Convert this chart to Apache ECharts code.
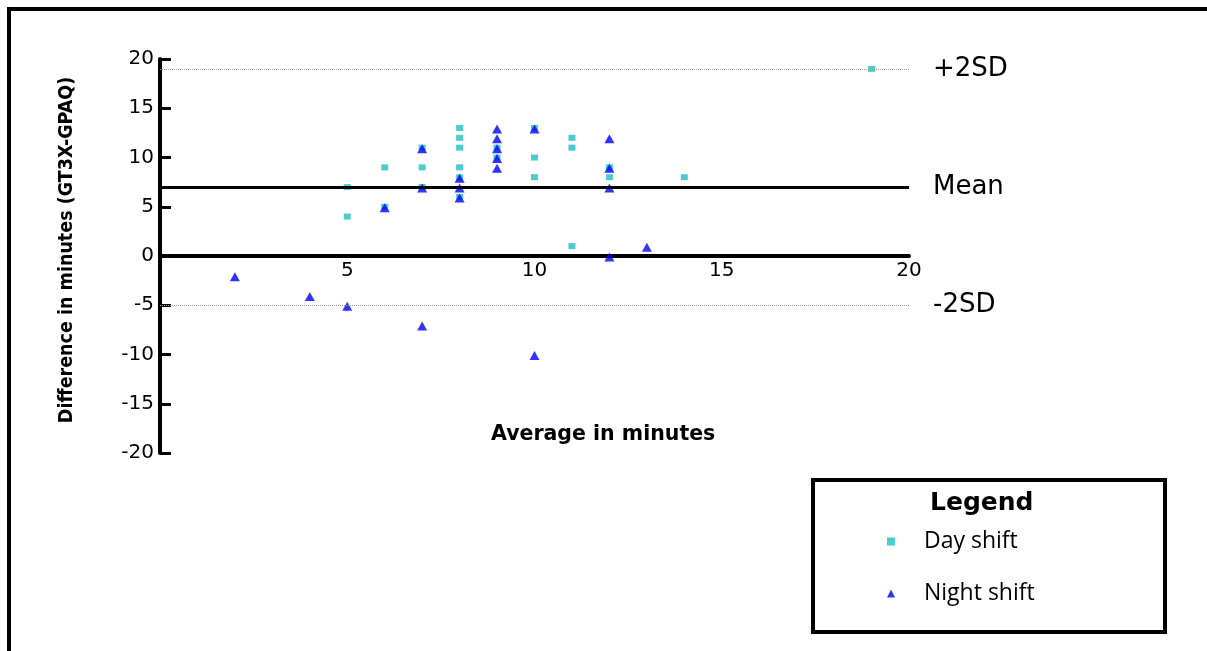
<!DOCTYPE html>
<html>
<head>
<meta charset="utf-8">
<title>Bland-Altman GT3X vs GPAQ</title>
<script src="https://cdn.jsdelivr.net/npm/echarts@6/dist/echarts.min.js"></script>
<style>
    html, body { margin: 0; padding: 0; background: #fff; }
    #main { width: 1207px; height: 651px; }
</style>
</head>
<body>
<div id="main"></div>
<script>
// day shift points (average, difference)
var dayX = [5, 5, 6, 6, 7, 7, 7, 8, 8, 8, 8, 8, 8, 9, 9, 10, 10, 10, 11, 11, 11, 12, 12, 14, 19];
var dayY = [7, 4, 9, 5, 11, 9, 7, 13, 12, 11, 9, 8, 6, 11, 10, 13, 10, 8, 12, 11, 1, 9, 8, 8, 19];

// night shift points
var nightX = [2, 4, 5, 6, 7, 7, 7, 8, 8, 8, 9, 9, 9, 9, 9, 10, 10, 12, 12, 12, 12, 13];
var nightY = [-2, -4, -5, 5, 11, 7, -7, 8, 7, 6, 13, 12, 11, 10, 9, 13, -10, 12, 9, 7, 0, 1];

// limits of agreement
var meanDiff = 7;
var upperSD = 19;
var lowerSD = -5;

var seriesNames = ['Day shift', 'Night shift'];

function toPairs(xs, ys) {
    var out = [];
    for (var i = 0; i < xs.length; i++) {
        out.push([xs[i], ys[i]]);
    }
    return out;
}

var chart = echarts.init(document.getElementById('main'));

var gridTop = 59;
var gridHeight = 394;

var sdLine = { color: '#9a9a9a', width: 1, type: 'dotted' };
var refLabel = {
    position: 'end',
    distance: 24,
    color: '#000',
    fontFamily: 'DejaVu Sans',
    fontSize: 26,
    padding: [9, 0, 0, 0]
};

var option = {
    backgroundColor: '#fff',
    animation: false,
    grid: { left: 160, top: gridTop, width: 749, height: gridHeight, containLabel: false },
    xAxis: {
        type: 'value',
        min: 0,
        max: 20,
        interval: 5,
        // x axis sits on y = 0, half way up the grid
        offset: -gridHeight / 2,
        splitLine: { show: false },
        axisTick: { show: false },
        axisLine: { onZero: false, lineStyle: { color: '#000', width: 4 } },
        axisLabel: {
            color: '#000',
            fontFamily: 'DejaVu Sans',
            fontSize: 20,
            margin: 5,
            formatter: function (v) { return v === 0 ? '' : String(v); }
        }
    },
    yAxis: {
        type: 'value',
        min: -20,
        max: 20,
        interval: 5,
        splitLine: { show: false },
        axisLine: { show: true, lineStyle: { color: '#000', width: 4 } },
        axisTick: { show: true, inside: true, length: 11, lineStyle: { color: '#000', width: 3 } },
        axisLabel: {
            color: '#000',
            fontFamily: 'DejaVu Sans',
            fontSize: 20,
            margin: 6
        }
    },
    legend: {
        orient: 'vertical',
        left: 882,
        top: 525,
        itemWidth: 8,
        itemHeight: 8,
        itemGap: 29,
        data: seriesNames,
        textStyle: {
            color: '#000',
            fontFamily: 'Open Sans',
            fontSize: 23,
            lineHeight: 23,
            padding: [0, 0, 0, 24]
        }
    },
    graphic: [
        // outer frame (only top and left edges fall inside the view)
        {
            type: 'rect',
            shape: { x: 9, y: 9, width: 1240, height: 700 },
            style: { fill: 'none', stroke: '#000', lineWidth: 4 },
            silent: true
        },
        // legend box
        {
            type: 'rect',
            shape: { x: 813, y: 480, width: 352, height: 152 },
            style: { fill: 'none', stroke: '#000', lineWidth: 4 },
            silent: true
        },
        {
            type: 'text',
            left: 930,
            top: 491,
            style: {
                text: 'Legend',
                fill: '#000',
                font: 'bold 25px "DejaVu Sans"'
            }
        },
        {
            type: 'text',
            left: 491,
            top: 424,
            style: {
                text: 'Average in minutes',
                fill: '#000',
                font: 'bold 20.5px "DejaVu Sans"'
            }
        },
        {
            type: 'text',
            x: 67,
            y: 250,
            rotation: Math.PI / 2,
            style: {
                text: 'Difference in minutes (GT3X-GPAQ)',
                fill: '#000',
                align: 'center',
                verticalAlign: 'middle',
                font: 'bold 19.5px "Liberation Sans Narrow", "DejaVu Sans Condensed", sans-serif'
            }
        }
    ],
    series: [
        {
            name: seriesNames[0],
            type: 'scatter',
            symbol: 'rect',
            symbolSize: [7, 6],
            itemStyle: { color: '#1fbfc4' },
            data: toPairs(dayX, dayY),
            z: 3,
            markLine: {
                silent: true,
                symbol: 'none',
                data: [
                    { yAxis: upperSD, lineStyle: sdLine, label: Object.assign({ formatter: '+2SD' }, refLabel) },
                    { yAxis: meanDiff, lineStyle: { color: '#000', width: 3, type: 'solid' }, label: Object.assign({ formatter: 'Mean' }, refLabel) },
                    { yAxis: lowerSD, lineStyle: sdLine, label: Object.assign({ formatter: '-2SD' }, refLabel) }
                ]
            }
        },
        {
            name: seriesNames[1],
            type: 'scatter',
            symbol: 'triangle',
            symbolSize: [10, 9],
            symbolOffset: [0, 1],
            itemStyle: { color: '#0000ff' },
            data: toPairs(nightX, nightY),
            z: 4
        }
    ]
};

chart.setOption(option);
</script>
</body>
</html>
